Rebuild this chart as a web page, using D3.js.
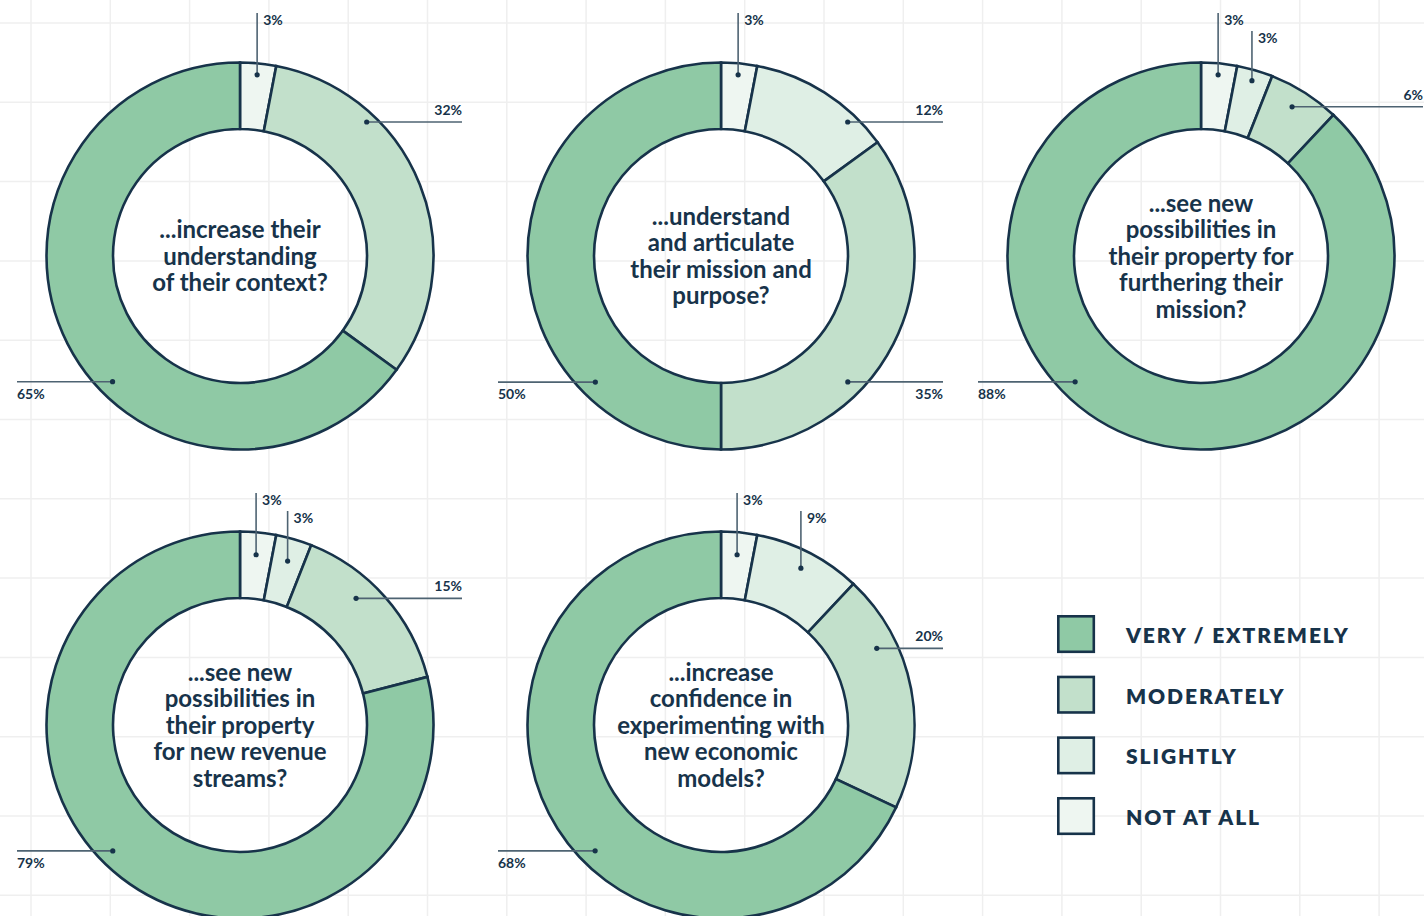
<!DOCTYPE html>
<html>
<head>
<meta charset="utf-8">
<script src="https://cdn.jsdelivr.net/npm/d3@7"></script>
<style>
  html, body { margin: 0; padding: 0; background: #ffffff; }
  svg { display: block; }
</style>
</head>
<body>
<svg id="chart" width="1424" height="916"></svg>
<script>
// ---------------- DATA ----------------
const categories = ["NOT AT ALL", "SLIGHTLY", "MODERATELY", "VERY / EXTREMELY"];
const legendOrder = ["VERY / EXTREMELY", "MODERATELY", "SLIGHTLY", "NOT AT ALL"];
const questions = [
  ["...increase their", "understanding", "of their context?"],
  ["...understand", "and articulate", "their mission and", "purpose?"],
  ["...see new", "possibilities in", "their property for", "furthering their", "mission?"],
  ["...see new", "possibilities in", "their property", "for new revenue", "streams?"],
  ["...increase", "confidence in", "experimenting with", "new economic", "models?"]
];
const notAtAll      = [3, 3, 3, 3, 3];
const slightly      = [0, 12, 3, 3, 9];
const moderately    = [32, 35, 6, 15, 20];
const veryExtremely = [65, 50, 88, 79, 68];

// ---------------- LAYOUT / STYLE ----------------
const W = 1424, H = 916;
const centers = [[240, 256], [721, 256], [1201, 256], [240, 725], [721, 725]];
const topLabelOffset = [243, 243, 243, 232, 232]; // vertical callout top above centre
// callout spec per chart per category: v = vertical (level), h = horizontal at angle (deg), r = anchor radius
const callouts = [
  [{v: 0, r: 182}, null, {h: 43.4, r: 184.4}, {h: 225.4, r: 179}],
  [{v: 0, r: 182}, {h: 43.4, r: 184.4}, {h: 134.8, r: 178.7}, {h: 224.9, r: 178}],
  [{v: 0, r: 182}, {v: 1, r: 182.6}, {h: 31.4, r: 174.8}, {h: 225, r: 178}],
  [{v: 0, r: 171}, {v: 1, r: 170.7}, {h: 42.5, r: 171.8}, {h: 225.3, r: 179}],
  [{v: 0, r: 171}, {v: 1, r: 176}, {h: 63.8, r: 173.6}, {h: 225, r: 178}]
];
const colors = {
  "VERY / EXTREMELY": "#8fc9a5",
  "MODERATELY": "#c2e0cb",
  "SLIGHTLY": "#dfefe5",
  "NOT AT ALL": "#eef6f1"
};
const ink = "#17334a";
const leaderInk = "#4e6372";
const outerR = 193.5, innerR = 127;
const fontMain = "Lato, 'Open Sans', sans-serif";

const svg = d3.select("#chart");
const color = d3.scaleOrdinal().domain(categories).range(categories.map(c => colors[c]));

// ---------------- GRID ----------------
const gridStep = 79.3;
const gx = d3.range(31, W, gridStep);
const gy = d3.range(23, H, gridStep);
const grid = svg.append("g").attr("stroke", "#efefef").attr("stroke-width", 1.5);
grid.selectAll("line.v").data(gx).join("line").attr("class", "v")
  .attr("x1", d => d).attr("x2", d => d).attr("y1", 0).attr("y2", H);
grid.selectAll("line.h").data(gy).join("line").attr("class", "h")
  .attr("y1", d => d).attr("y2", d => d).attr("x1", 0).attr("x2", W);

// ---------------- DONUTS ----------------
const pie = d3.pie().sort(null).value(d => d.value).startAngle(0).endAngle(2 * Math.PI);
const arc = d3.arc().innerRadius(innerR).outerRadius(outerR);
const toRad = deg => deg * Math.PI / 180;

questions.forEach((q, i) => {
  const [cx, cy] = centers[i];
  const rows = [notAtAll[i], slightly[i], moderately[i], veryExtremely[i]]
    .map((v, k) => ({cat: categories[k], value: v, k}));
  const arcs = pie(rows);
  const g = svg.append("g").attr("transform", `translate(${cx},${cy})`);

  g.selectAll("path").data(arcs.filter(a => a.data.value > 0)).join("path")
    .attr("d", arc)
    .attr("fill", d => color(d.data.cat))
    .attr("stroke", ink)
    .attr("stroke-width", 2.6)
    .attr("stroke-linejoin", "miter");

  // centre question
  const n = q.length, lh = 26.5;
  g.append("text")
    .attr("text-anchor", "middle")
    .attr("font-family", fontMain)
    .attr("font-weight", 700)
    .attr("font-size", 24)
    .attr("fill", ink)
    .selectAll("tspan").data(q).join("tspan")
    .attr("x", 0)
    .attr("y", (d, j) => 1 + (j - (n - 1) / 2) * lh + 7.5)
    .text(d => d);

  // callouts
  const lab = g.append("g");
  arcs.forEach(a => {
    const spec = callouts[i][a.data.k];
    if (!spec || a.data.value <= 0) return;
    const txt = a.data.value + "%";
    const ang = spec.v !== undefined ? (a.startAngle + a.endAngle) / 2 : toRad(spec.h);
    const r = spec.r;
    const px = r * Math.sin(ang), py = -r * Math.cos(ang);
    if (spec.v !== undefined) {
      const topY = -topLabelOffset[i] + spec.v * 18;
      lab.append("line").attr("x1", px).attr("x2", px).attr("y1", py).attr("y2", topY)
        .attr("stroke", leaderInk).attr("stroke-width", 1.6);
      lab.append("text").attr("x", px + 6).attr("y", topY + 11.5)
        .attr("font-family", fontMain).attr("font-weight", 700).attr("font-size", 14)
        .attr("fill", ink).text(txt);
    } else {
      const right = px > 0;
      const endX = right ? 222 : -223;
      lab.append("line").attr("x1", px).attr("x2", endX).attr("y1", py).attr("y2", py)
        .attr("stroke", leaderInk).attr("stroke-width", 1.6);
      lab.append("text")
        .attr("x", endX)
        .attr("y", py < 0 ? py - 7 : py + 17)
        .attr("text-anchor", right ? "end" : "start")
        .attr("font-family", fontMain).attr("font-weight", 700).attr("font-size", 14)
        .attr("fill", ink).text(txt);
    }
    lab.append("circle").attr("cx", px).attr("cy", py).attr("r", 2.6).attr("fill", ink);
  });
});

// ---------------- LEGEND ----------------
const legY = d3.scalePoint().domain(legendOrder).range([615, 797]);
const leg = svg.append("g");
leg.selectAll("rect").data(legendOrder).join("rect")
  .attr("x", 1058.3).attr("y", d => legY(d) + 1.3)
  .attr("width", 35.5).attr("height", 35.5)
  .attr("fill", d => color(d)).attr("stroke", ink).attr("stroke-width", 2.6);
leg.selectAll("text").data(legendOrder).join("text")
  .attr("x", 1126).attr("y", d => legY(d) + 28)
  .attr("font-family", fontMain).attr("font-weight", 800).attr("font-size", 21)
  .attr("letter-spacing", 1.9)
  .attr("fill", ink).text(d => d);
</script>
</body>
</html>
